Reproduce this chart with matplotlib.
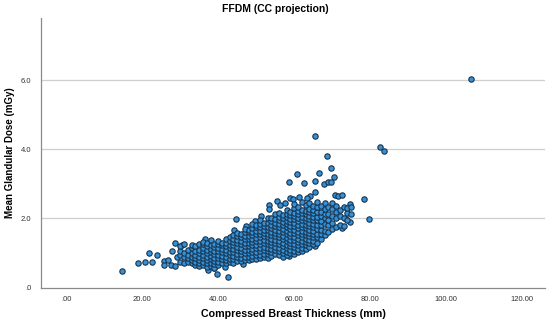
import matplotlib
matplotlib.use("Agg")
import matplotlib.pyplot as plt

plt.rcParams['font.family'] = ['Liberation Sans', 'DejaVu Sans']

# sparse / isolated cases (thickness mm, dose mGy)
sparse_mm = [14.6, 18.8, 20.8, 21.7, 22.7, 23.8, 25.7, 25.7, 26.7, 27.8,
             28.7, 30.4, 27.6, 28.6, 29.3, 38.9, 39.7, 41.8, 42.7, 44.7,
             53.5, 53.5, 55.6, 58.8, 58.6, 60.7, 62.6, 64.2, 65.5, 65.6,
             66.6, 67.8, 68.8, 69.6, 69.6, 70.5, 68.6, 65.6, 70.8, 71.6,
             72.6, 74.7, 73.7, 74.7, 72.6, 78.5, 79.6, 82.5, 83.6, 106.5,
             58.6, 65.6, 56.4, 57.5, 59.6, 61.4, 63.3, 36.5, 44.2, 47.3,
             49.6, 51.2, 37.4, 46.5]
sparse_dose = [0.49, 0.72, 0.74, 0.99, 0.73, 0.94, 0.76, 0.65, 0.80, 1.07,
               1.30, 1.23, 0.65, 0.62, 0.88, 0.56, 0.40, 0.61, 0.30, 1.99,
               2.40, 2.27, 2.50, 2.60, 3.05, 3.28, 3.02, 2.65, 2.77, 3.07,
               3.31, 2.99, 3.05, 3.05, 3.45, 3.21, 3.81, 4.39, 2.67, 2.65,
               2.67, 2.43, 1.98, 1.90, 1.73, 2.55, 1.99, 4.07, 3.95, 6.03,
               0.91, 1.19, 2.38, 2.45, 2.55, 2.62, 2.58, 1.42, 1.68, 1.78,
               1.93, 2.06, 0.52, 0.68]

# dense band, one list of doses per thickness (mm)
band_mm = list(range(30, 76))
band_dose = [
    [0.75, 0.95, 1.05, 1.20],
    [0.70, 0.90, 1.00, 1.25],
    [0.75, 0.85, 0.95, 1.10],
    [0.70, 0.80, 0.90, 1.00, 1.15, 1.22],
    [0.65, 0.75, 0.85, 0.95, 1.05, 1.20],
    [0.62, 0.70, 0.80, 0.90, 1.00, 1.10, 1.25],
    [0.65, 0.75, 0.85, 0.95, 1.05, 1.15, 1.25, 1.33],
    [0.60, 0.70, 0.80, 0.90, 1.00, 1.10, 1.20, 1.28],
    [0.62, 0.72, 0.82, 0.92, 1.02, 1.12, 1.22, 1.38],
    [0.57, 0.67, 0.77, 0.87, 0.97, 1.07, 1.17, 1.27],
    [0.65, 0.75, 0.85, 0.95, 1.05, 1.15, 1.25, 1.36],
    [0.72, 0.82, 0.92, 1.02, 1.12, 1.22, 1.30],
    [0.70, 0.80, 0.90, 1.00, 1.10, 1.20, 1.30, 1.40],
    [0.74, 0.84, 0.94, 1.04, 1.14, 1.24, 1.34, 1.47],
    [0.72, 0.82, 0.92, 1.02, 1.12, 1.22, 1.32, 1.42, 1.52],
    [0.78, 0.88, 0.98, 1.08, 1.18, 1.28, 1.38, 1.48, 1.58],
    [0.76, 0.86, 0.96, 1.06, 1.16, 1.26, 1.36, 1.46, 1.54],
    [0.80, 0.90, 1.00, 1.10, 1.20, 1.30, 1.40, 1.50, 1.60, 1.70],
    [0.80, 0.90, 1.00, 1.10, 1.20, 1.30, 1.40, 1.50, 1.60, 1.66],
    [0.82, 0.92, 1.02, 1.12, 1.22, 1.32, 1.42, 1.52, 1.62, 1.72, 1.84],
    [0.84, 0.94, 1.04, 1.14, 1.24, 1.34, 1.44, 1.54, 1.64, 1.74, 1.80],
    [0.85, 0.95, 1.05, 1.15, 1.25, 1.35, 1.45, 1.55, 1.65, 1.75, 1.85, 1.95],
    [0.88, 0.98, 1.08, 1.18, 1.28, 1.38, 1.48, 1.58, 1.68, 1.78, 1.88],
    [0.86, 0.96, 1.06, 1.16, 1.26, 1.36, 1.46, 1.56, 1.66, 1.76, 1.86, 2.02],
    [0.92, 1.02, 1.12, 1.22, 1.32, 1.42, 1.52, 1.62, 1.72, 1.82, 1.92, 2.00],
    [0.98, 1.08, 1.18, 1.28, 1.38, 1.48, 1.58, 1.68, 1.78, 1.88, 1.98, 2.12],
    [0.95, 1.05, 1.15, 1.25, 1.35, 1.45, 1.55, 1.65, 1.75, 1.85, 1.95, 2.05, 2.16],
    [0.90, 1.00, 1.10, 1.20, 1.30, 1.40, 1.50, 1.60, 1.70, 1.80, 1.90, 2.00, 2.10],
    [0.94, 1.04, 1.14, 1.24, 1.34, 1.44, 1.54, 1.64, 1.74, 1.84, 1.94, 2.04, 2.14, 2.24],
    [0.99, 1.09, 1.19, 1.29, 1.39, 1.49, 1.59, 1.69, 1.79, 1.89, 1.99, 2.09, 2.19],
    [0.97, 1.07, 1.17, 1.27, 1.37, 1.47, 1.57, 1.67, 1.77, 1.87, 1.97, 2.07, 2.17, 2.30, 2.42],
    [1.02, 1.12, 1.22, 1.32, 1.42, 1.52, 1.62, 1.72, 1.82, 1.92, 2.02, 2.12, 2.22, 2.34],
    [1.05, 1.15, 1.25, 1.35, 1.45, 1.55, 1.65, 1.75, 1.85, 1.95, 2.05, 2.15, 2.25, 2.47],
    [1.12, 1.22, 1.32, 1.42, 1.52, 1.62, 1.72, 1.82, 1.92, 2.02, 2.12, 2.22, 2.38],
    [1.18, 1.28, 1.38, 1.48, 1.58, 1.68, 1.78, 1.88, 1.98, 2.08, 2.18, 2.28, 2.44],
    [1.25, 1.35, 1.45, 1.55, 1.65, 1.75, 1.85, 1.95, 2.05, 2.15, 2.25, 2.36],
    [1.30, 1.45, 1.55, 1.70, 1.80, 1.95, 2.05, 2.20, 2.32, 2.48],
    [1.42, 1.55, 1.68, 1.80, 1.92, 2.06, 2.20, 2.36],
    [1.52, 1.65, 1.85, 2.00, 2.12, 2.28, 2.44],
    [1.62, 1.80, 1.96, 2.14, 2.34],
    [1.70, 1.88, 2.08, 2.28, 2.46],
    [1.76, 2.02, 2.20, 2.36],
    [1.80, 2.06, 2.24],
    [1.78, 2.00, 2.32],
    [1.96, 2.16, 2.30],
    [2.12, 2.32],
]

xtick_vals = [0, 20, 40, 60, 80, 100, 120]
xtick_labels = ['.00', '20.00', '40.00', '60.00', '80.00', '100.00', '120.00']
ytick_vals = [0, 2, 4, 6]
ytick_labels = ['.0', '2.0', '4.0', '6.0']

xs = list(sparse_mm)
ys = list(sparse_dose)
for mm, doses in zip(band_mm, band_dose):
    xs += [mm] * len(doses)
    ys += doses

fig = plt.figure(figsize=(5.5, 3.25), dpi=100)
ax = fig.add_axes([0.0745, 0.115, 0.9165, 0.83])

ax.scatter(xs, ys, s=15, c='#3590d6', edgecolors='#17344f', linewidths=0.8, zorder=3)

ax.set_xlim(-6.6, 126)
ax.set_ylim(0, 7.8)
ax.set_xticks(xtick_vals)
ax.set_xticklabels(xtick_labels)
ax.set_yticks(ytick_vals)
ax.set_yticklabels(ytick_labels)
ax.tick_params(axis='both', length=0, labelsize=5.5, colors='#333333')
ax.tick_params(axis='x', pad=6)
ax.tick_params(axis='y', pad=7)

for v in ytick_vals[1:]:
    ax.axhline(v, color='#cfcfcf', linewidth=0.9, zorder=1)

for side in ['top', 'right']:
    ax.spines[side].set_visible(False)
for side in ['left', 'bottom']:
    ax.spines[side].set_color('#8a8a8a')
    ax.spines[side].set_linewidth(0.9)

ax.set_xlabel('Compressed Breast Thickness (mm)', fontsize=7.7, fontweight='bold', labelpad=4)
ax.set_ylabel('Mean Glandular Dose (mGy)', fontsize=7, fontweight='bold', labelpad=4)
fig.text(0.5, 0.972, 'FFDM (CC projection)', ha='center', va='center',
         fontsize=7.5, fontweight='bold')

fig.savefig('out.png', dpi=100)
